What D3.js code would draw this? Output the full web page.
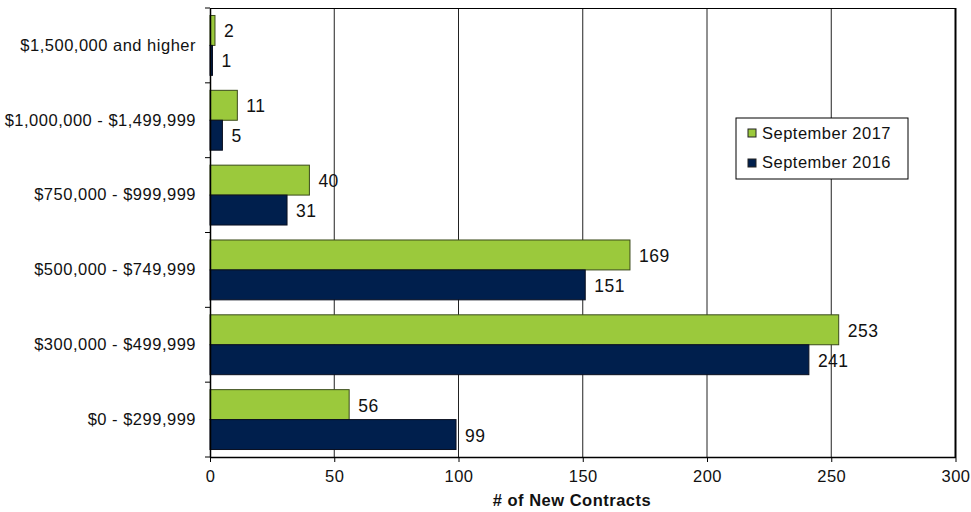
<!DOCTYPE html>
<html>
<head>
<meta charset="utf-8">
<script src="https://cdn.jsdelivr.net/npm/d3@7"></script>
<style>
  body { margin: 0; background: #fff; }
  text { font-family: "Liberation Sans", Arial, sans-serif; fill: #111; letter-spacing: 0.5px; }
</style>
</head>
<body>
<div id="chart"></div>
<script>
// Set up conventions
let width = 971;
let height = 512;
let margin = ({top: 8, right: 15, bottom: 55, left: 210});

// data
let categories = ["$1,500,000 and higher", "$1,000,000 - $1,499,999", "$750,000 - $999,999",
                  "$500,000 - $749,999", "$300,000 - $499,999", "$0 - $299,999"];
let series = ["September 2017", "September 2016"];
let sep2017 = [2, 11, 40, 169, 253, 56];
let sep2016 = [1, 5, 31, 151, 241, 99];
let xTicks = [0, 50, 100, 150, 200, 250, 300];
let colors = ["#9bc93c", "#001f4d"];

let svg = d3.select("#chart")
    .append("svg")
    .attr("width", width)
    .attr("height", height)

let xScale = d3.scaleLinear()
    .domain([0, 300])
    .range([margin.left, width - margin.right - 0.5])

let yScale = d3.scaleBand()
    .domain(categories)
    .range([margin.top, height - margin.bottom])
    .padding(0)

let bw = yScale.bandwidth()
let inner = d3.scaleBand()
    .domain(series)
    .range([bw * 0.1, bw * 0.9])

// gridlines
svg.append("g")
    .selectAll("line")
    .data(xTicks.slice(1, -1))
    .enter()
    .append("line")
    .attr("x1", d => xScale(d))
    .attr("x2", d => xScale(d))
    .attr("y1", margin.top)
    .attr("y2", height - margin.bottom)
    .attr("stroke", "#222")
    .attr("stroke-width", 1)

// top and right border
svg.append("line")
    .attr("x1", margin.left).attr("x2", xScale(300))
    .attr("y1", margin.top + 0.5).attr("y2", margin.top + 0.5)
    .attr("stroke", "#000")
svg.append("line")
    .attr("x1", xScale(300)).attr("x2", xScale(300))
    .attr("y1", margin.top).attr("y2", height - margin.bottom)
    .attr("stroke", "#000").attr("stroke-width", 2)

let rows = categories.map((c, i) => ({cat: c, vals: [sep2017[i], sep2016[i]]}))

let groups = svg.selectAll(".grp")
    .data(rows)
    .enter()
    .append("g")
    .attr("class", "grp")
    .attr("transform", d => "translate(0," + yScale(d.cat) + ")")

groups.selectAll("rect")
    .data(d => d.vals.map((v, j) => ({v: v, s: series[j], j: j})))
    .enter()
    .append("rect")
    .attr("x", xScale(0))
    .attr("y", d => inner(d.s))
    .attr("width", d => xScale(d.v) - xScale(0))
    .attr("height", inner.bandwidth())
    .attr("fill", d => colors[d.j])
    .attr("stroke", d => d.j == 0 ? "#3a4a1a" : "#0a0f1f")
    .attr("stroke-width", 1)

groups.selectAll(".val")
    .data(d => d.vals.map((v, j) => ({v: v, s: series[j]})))
    .enter()
    .append("text")
    .attr("class", "val")
    .attr("x", d => xScale(d.v) + 9)
    .attr("y", d => inner(d.s) + inner.bandwidth() / 2 + 7)
    .style("font-size", "17.5px")
    .text(d => d.v)

// axes
let xAxis = d3.axisBottom(xScale).tickValues(xTicks).tickSize(5).tickSizeOuter(0)
let gx = svg.append("g")
    .attr("transform", "translate(0," + (height - margin.bottom) + ")")
    .call(xAxis)
gx.select(".domain").attr("stroke", "#000").attr("stroke-width", 1.5)
gx.selectAll("text").style("font-size", "16.5px").attr("dy", "1.05em").attr("fill", "#111")

let yAxis = d3.axisLeft(yScale).tickSize(0)
let gy = svg.append("g")
    .attr("transform", "translate(" + margin.left + ",0)")
    .call(yAxis)
gy.select(".domain").attr("stroke", "#000").attr("stroke-width", 1.5)
gy.selectAll("text").style("font-size", "16.5px").attr("x", -14).attr("fill", "#111")
svg.selectAll("g").attr("font-family", null)

// tick marks on the category boundaries
svg.append("g")
    .selectAll("line")
    .data(categories.concat(["end"]))
    .enter()
    .append("line")
    .attr("x1", margin.left - 5)
    .attr("x2", margin.left)
    .attr("y1", (d, i) => margin.top + i * bw)
    .attr("y2", (d, i) => margin.top + i * bw)
    .attr("stroke", "#000")

// x title
svg.append("text")
    .attr("x", 572)
    .attr("y", height - 6)
    .attr("text-anchor", "middle")
    .style("font-size", "16.5px")
    .style("font-weight", "bold")
    .text("# of New Contracts")

// legend
let lg = svg.append("g").attr("transform", "translate(736,118)")
lg.append("rect")
    .attr("width", 172).attr("height", 61)
    .attr("fill", "#fff").attr("stroke", "#000")
series.forEach((s, i) => {
    lg.append("rect")
        .attr("x", 12).attr("y", 11 + i * 30)
        .attr("width", 8).attr("height", 8)
        .attr("fill", colors[i])
        .attr("stroke", "#222")
    lg.append("text")
        .attr("x", 26).attr("y", 21 + i * 29)
        .style("font-size", "16.5px")
        .text(s)
})
</script>
</body>
</html>
